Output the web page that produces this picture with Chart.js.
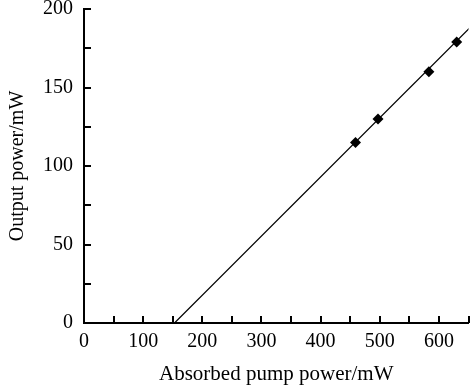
<!DOCTYPE html>
<html>
<head>
<meta charset="utf-8">
<script src="https://cdn.jsdelivr.net/npm/chart.js@4"></script>
<style>
  html, body { margin: 0; padding: 0; background: #fff; }
  #wrap { width: 474px; height: 387px; }
</style>
</head>
<body>
<div id="wrap"><canvas id="chart"></canvas></div>
<script>
// measured points
const pumpPower = [459, 497, 583, 630];
const outputPower = [115, 130, 160, 179];

// linear fit line ends
const fitX = [153, 660];
const fitY = [0, 191];

const FONT = "'Liberation Serif', 'DejaVu Serif', serif";

// draw tick marks pointing into the plot area
const inwardTicks = {
  id: 'inwardTicks',
  afterDraw(chart) {
    const ctx = chart.ctx;
    const area = chart.chartArea;
    const len = 7;
    ctx.save();
    ctx.strokeStyle = '#000';
    ctx.lineWidth = 2;
    ctx.beginPath();
    const xs = chart.scales.x;
    for (const t of xs.ticks) {
      if (t.value === 0) continue;
      const px = Math.round(xs.getPixelForValue(t.value));
      ctx.moveTo(px, area.bottom);
      ctx.lineTo(px, area.bottom - len);
    }
    const ys = chart.scales.y;
    for (const t of ys.ticks) {
      if (t.value === 0) continue;
      const py = Math.round(ys.getPixelForValue(t.value));
      ctx.moveTo(area.left, py);
      ctx.lineTo(area.left + len, py);
    }
    ctx.stroke();
    ctx.restore();
  }
};

function noPad(scale) {
  scale.paddingTop = 0;
  scale.paddingBottom = 0;
  scale.paddingLeft = 0;
  scale.paddingRight = 0;
}

new Chart(document.getElementById('chart'), {
  type: 'scatter',
  data: {
    datasets: [
      {
        label: 'measured',
        data: pumpPower.map((x, i) => ({ x, y: outputPower[i] })),
        pointStyle: 'rectRot',
        pointRadius: 5.5,
        backgroundColor: '#000',
        borderColor: '#000',
        borderWidth: 0,
        showLine: false
      },
      {
        label: 'fit',
        data: fitX.map((x, i) => ({ x, y: fitY[i] })),
        showLine: true,
        pointRadius: 0,
        borderColor: '#000',
        borderWidth: 1.2
      }
    ]
  },
  options: {
    responsive: true,
    maintainAspectRatio: false,
    animation: false,
    layout: { padding: { top: 9, right: 2, left: 0, bottom: 0 } },
    plugins: { legend: { display: false }, tooltip: { enabled: false } },
    scales: {
      x: {
        type: 'linear',
        min: 0,
        max: 650,
        afterFit(scale) { scale.height = 64; noPad(scale); },
        border: { display: true, color: '#000', width: 2 },
        grid: { display: false, drawTicks: false },
        ticks: {
          stepSize: 50,
          autoSkip: false,
          maxRotation: 0,
          padding: 9,
          color: '#000',
          font: { family: FONT, size: 20, lineHeight: 1 },
          callback: v => (v % 100 === 0 ? String(v) : '')
        },
        title: {
          display: true,
          text: 'Absorbed pump power/mW',
          color: '#000',
          padding: { top: 0, bottom: 0 },
          font: { family: FONT, size: 21, lineHeight: 1.2 }
        }
      },
      y: {
        type: 'linear',
        min: 0,
        max: 200,
        afterFit(scale) { scale.width = 84; noPad(scale); },
        border: { display: true, color: '#000', width: 2 },
        grid: { display: false, drawTicks: false },
        ticks: {
          stepSize: 25,
          autoSkip: false,
          padding: 11,
          color: '#000',
          font: { family: FONT, size: 20, lineHeight: 1 },
          callback: v => (v % 50 === 0 ? String(v) : '')
        },
        title: {
          display: true,
          text: 'Output power/mW',
          color: '#000',
          padding: { top: 6, bottom: 0 },
          font: { family: FONT, size: 20, lineHeight: 1.2 }
        }
      }
    }
  },
  plugins: [inwardTicks]
});
</script>
</body>
</html>
